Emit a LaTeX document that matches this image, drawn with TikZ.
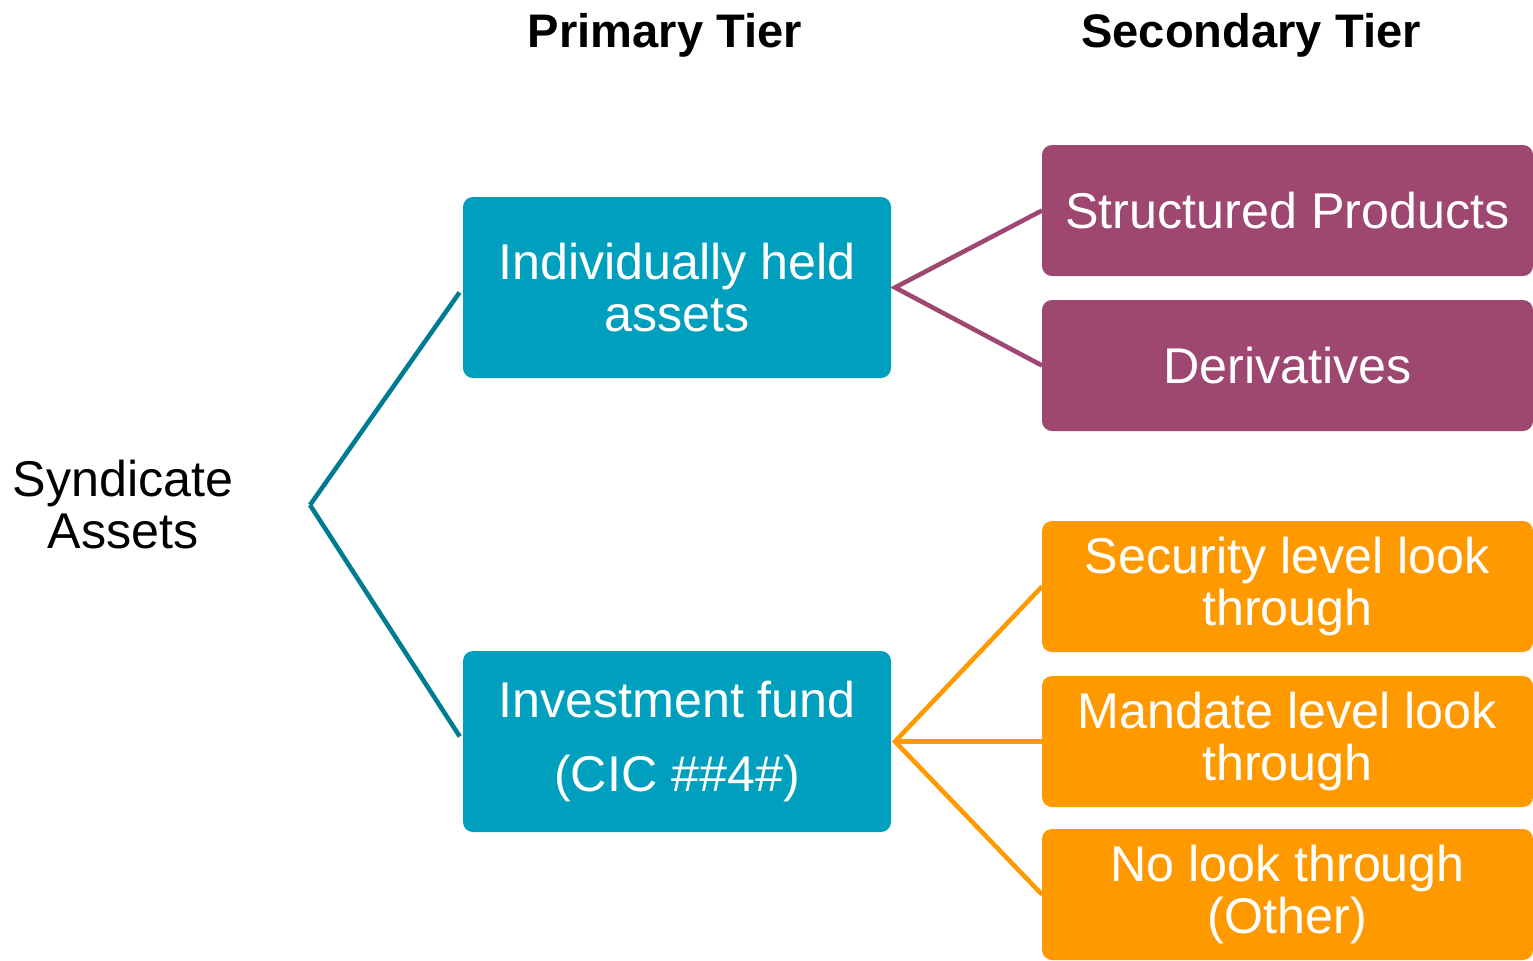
\documentclass[tikz,border=0pt]{standalone}
\usepackage{fontspec}
\setmainfont{Liberation Sans}
\usepackage{xcolor}
\usepackage{tikz}
\usetikzlibrary{calc,positioning}
\definecolor{syteal}{HTML}{009FBD}
\definecolor{sytealdark}{HTML}{007C92}
\definecolor{syplum}{HTML}{9E4770}
\definecolor{syorange}{HTML}{FF9900}
\tikzset{
  tierhead/.style={font=\bfseries\fontsize{13.4}{15}\selectfont,anchor=base},
  primbox/.style={fill=syteal,rounded corners=1mm,minimum width=42.8mm,
    minimum height=18.1mm,inner sep=0pt,outer sep=0pt,align=center,text=white},
  secbox/.style={rounded corners=1mm,minimum width=49.1mm,minimum height=13.1mm,
    inner sep=0pt,outer sep=0pt,align=center,text=white},
  plumbox/.style={secbox,fill=syplum},
  orangebox/.style={secbox,fill=syorange},
  link/.style={line width=1.3pt}
}

\begin{document}
\begin{tikzpicture}[node distance=2.4mm,font=\fontsize{14.3}{14.8}\selectfont]
    \useasboundingbox (0,0) rectangle (15.33,-9.6);
    \node[tierhead] (hprim) at (6.65,-0.47) {Primary Tier};
    \node[tierhead] (hsec) at (12.51,-0.47) {Secondary Tier};
    \node[align=center] (syn) at (1.23,-5.05) {Syndicate\\Assets};
    \coordinate (synfork) at (3.10,-5.05);
    % primary tier
    \node[primbox] (ind) at (6.77,-2.875) {Individually held\\assets};
    \node[primbox] (inv) at (6.77,-7.415) {Investment fund\\[6pt](CIC \#\#4\#)};
    \draw[link,sytealdark,shorten >=0.6mm] (synfork) -- (ind.west);
    \draw[link,sytealdark,shorten >=0.6mm] (synfork) -- (inv.west);
    % secondary tier
    \node[plumbox] (struct) at (12.875,-2.105) {Structured Products};
    \node[plumbox,below=of struct] (deriv) {Derivatives};
    \node[orangebox,below=9mm of deriv] (seclook) {Security level look\\through};
    \node[orangebox,below=of seclook] (mandlook) {Mandate level look\\through};
    \node[orangebox,below=2.2mm of mandlook] (nolook) {No look through\\(Other)};
    \coordinate (indfork) at ($(ind.east)+(0.04,0)$);
    \coordinate (invfork) at ($(inv.east)+(0.04,0)$);
    \draw[link,syplum] (struct.west) -- (indfork) -- (deriv.west);
    \draw[link,syorange] (seclook.west) -- (invfork) -- (nolook.west);
    \draw[link,syorange] (invfork) -- (mandlook.west);
  \end{tikzpicture}
\end{document}
